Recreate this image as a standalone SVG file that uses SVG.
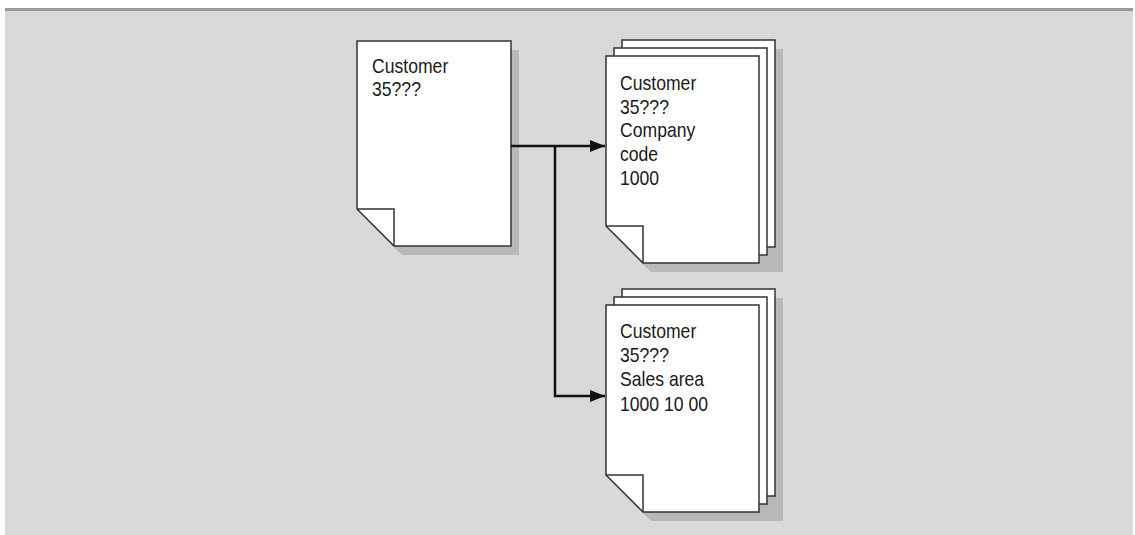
<svg xmlns="http://www.w3.org/2000/svg" width="1135" height="535" viewBox="0 0 1135 535">
  <style>
    .page { fill: #ffffff; stroke: #333333; stroke-width: 1.5; stroke-linejoin: miter; }
    .fold { fill: none; stroke: #333333; stroke-width: 1.5; }
    .shadow { fill: #b8b8b8; }
    .label { font-family: "Liberation Sans", Arial, sans-serif; font-size: 20px; fill: #1a1a1a; }
    .conn { fill: none; stroke: #111111; stroke-width: 2.5; }
  </style>
  <defs>
    <marker id="arrow" markerWidth="16" markerHeight="12" refX="15" refY="6" orient="auto" markerUnits="userSpaceOnUse">
      <path d="M0,0 L15,6 L0,12 Z" fill="#111111"/>
    </marker>
  </defs>
  <rect x="0" y="0" width="1135" height="535" fill="#ffffff"/>
  <rect x="5" y="8" width="1128" height="527" fill="#d9d9d9"/>
  <rect x="5" y="8" width="1128" height="3" fill="#999999"/>

  <g id="node-customer">
    <path class="shadow" d="M365,50 H519 V255 H402 L365,218 Z"/>
    <path class="page" d="M357,41 H511 V246 H394 L357,209 Z"/>
    <path class="fold" d="M357,209 H394 V246"/>
    <text class="label" transform="translate(372,73) scale(0.88,1)"><tspan x="0" y="0">Customer</tspan><tspan x="0" y="23.5">35???</tspan></text>
  </g>

  <g id="node-company-code">
    <path class="shadow" d="M630,49 H783 V272 H651 L614,235 Z"/>
    <path class="page" d="M622,40 H775 V247 H659 L622,210 Z"/>
    <path class="page" d="M614,48 H767 V255 H651 L614,218 Z"/>
    <path class="page" d="M606,56 H759 V263 H643 L606,226 Z"/>
    <path class="fold" d="M606,226 H643 V263"/>
    <text class="label" transform="translate(620,90) scale(0.88,1)"><tspan x="0" y="0">Customer</tspan><tspan x="0" y="23.7">35???</tspan><tspan x="0" y="47.4">Company</tspan><tspan x="0" y="71.1">code</tspan><tspan x="0" y="94.8">1000</tspan></text>
  </g>

  <g id="node-sales-area">
    <path class="shadow" d="M630,298 H783 V521 H651 L614,484 Z"/>
    <path class="page" d="M622,289 H775 V496 H659 L622,459 Z"/>
    <path class="page" d="M614,297 H767 V504 H651 L614,467 Z"/>
    <path class="page" d="M606,305 H759 V512 H643 L606,475 Z"/>
    <path class="fold" d="M606,475 H643 V512"/>
    <text class="label" transform="translate(620,338) scale(0.88,1)"><tspan x="0" y="0">Customer</tspan><tspan x="0" y="24.2">35???</tspan><tspan x="0" y="48.4">Sales area</tspan><tspan x="0" y="72.6">1000 10 00</tspan></text>
  </g>

  <g id="connectors">
    <path class="conn" d="M511,146 H605" marker-end="url(#arrow)"/>
    <path class="conn" d="M555,146 V396 H605" marker-end="url(#arrow)"/>
  </g>
</svg>
